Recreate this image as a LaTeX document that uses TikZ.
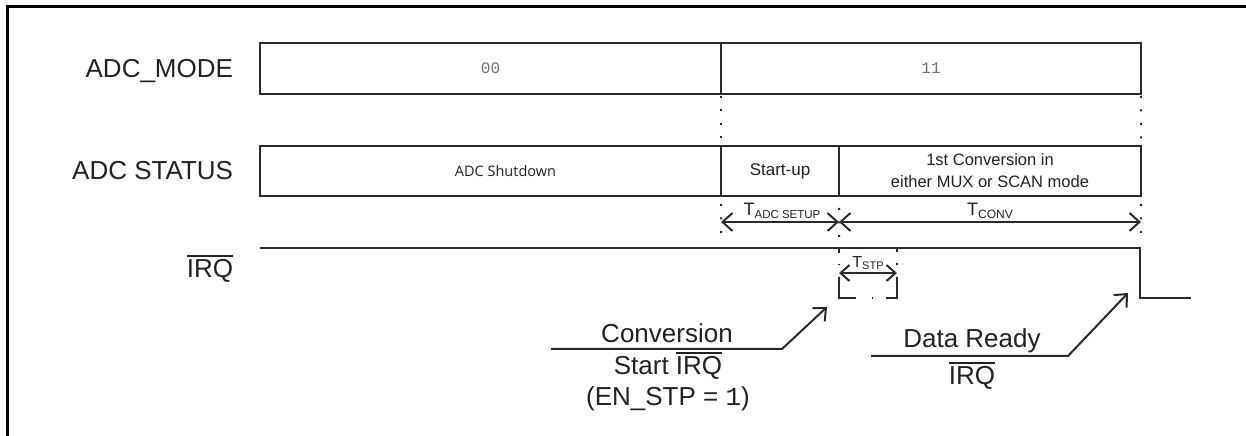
\documentclass[tikz,border=0pt]{standalone}
\usepackage{fontspec}
\setmainfont{Liberation Sans}
\newfontfamily\monofont{Liberation Mono}
\newfontfamily\humfont{Open Sans}
\usetikzlibrary{arrows.meta}
\definecolor{ink}{HTML}{222222}
\definecolor{boxc}{HTML}{2A2A2A}
\definecolor{grayt}{HTML}{707070}
\newcommand{\ovl}[1]{\leavevmode\vbox{\hrule height 1.8bp\kern 3.2bp\hbox{#1}}}
\begin{document}
\begin{tikzpicture}[x=1bp,y=-1bp,line width=2bp,
  seg/.style={draw=boxc,rectangle,inner sep=0pt,outer sep=0pt,anchor=north west,align=center,text=ink},
  lbl/.style={anchor=base east,inner sep=0pt,text=ink,font=\fontsize{26bp}{30bp}\selectfont},
  big/.style={anchor=base,inner sep=0pt,text=ink,font=\fontsize{26bp}{30bp}\selectfont},
  tlab/.style={anchor=base,inner sep=0pt,text=ink,font=\fontsize{18bp}{20bp}\selectfont},
  dotsy/.style={draw=boxc,line width=2bp,dash pattern=on 2bp off 11.5bp},
  dim/.style={draw=boxc,line width=2bp,{Straight Barb[length=10bp,width=18bp]}-{Straight Barb[length=10bp,width=18bp]}},
  dimsmall/.style={draw=boxc,line width=2bp,{Straight Barb[length=9bp,width=16bp]}-{Straight Barb[length=9bp,width=16bp]}},
  callout/.style={draw=boxc,line width=2bp,-{Straight Barb[length=10bp,width=18bp]}},
  sig/.style={draw=boxc,line width=2bp}
]
\useasboundingbox (0,0) rectangle (1246,436);
% frame
\draw[line width=3bp,black] (7,436) -- (7,7) -- (1246,7);

% row labels
\node[lbl] (lmode) at (234,78) {ADC\_MODE};
\node[lbl] (lstat) at (234,180) {ADC STATUS};
\node[lbl] (lirq) at (234,278) {\ovl{IRQ}};

% ADC_MODE row
\node[seg,minimum width=461bp,minimum height=51bp,font=\monofont\fontsize{16bp}{18bp}\selectfont,text=grayt] (m0) at (260,43) {00};
\node[seg,minimum width=420bp,minimum height=51bp,font=\monofont\fontsize{16bp}{18bp}\selectfont,text=grayt] (m1) at (721,43) {11};

% ADC STATUS row
\node[seg,minimum width=461bp,minimum height=50bp,font=\humfont\fontsize{14.5bp}{17bp}\selectfont] (s0) at (260,146) {\hspace*{30bp}ADC Shutdown};
\node[seg,minimum width=118bp,minimum height=50bp,font=\fontsize{17bp}{20bp}\selectfont] (s1) at (721,146) {Start-up};
\node[seg,minimum width=302bp,minimum height=50bp,font=\fontsize{16.5bp}{22bp}\selectfont] (s2) at (839,146) {1st Conversion in\\either MUX or SCAN mode};

% dotted guides between rows
\draw[dotsy,shorten <=2bp] (m0.south east) -- (s0.north east);
\draw[dotsy,shorten <=2bp] (m1.south east) -- (s2.north east);

% time points
\coordinate (tA) at (721,222);
\coordinate (tB) at (839,222);
\coordinate (tC) at (1141,222);
\coordinate (dA) at (721,240);
\coordinate (dB) at (839,244);
\coordinate (dC) at (1141,240);
\draw[dotsy,shorten <=8bp] (s0.south east) -- (dA);
\draw[dotsy,shorten <=12bp] (s1.south east) -- (dB);
\draw[dotsy,shorten <=8bp] (s2.south east) -- (dC);

% duration arrows
\draw[dim] (tA) -- (tB);
\draw[dim] (tB) -- (tC);
\node[tlab] (lsetup) at (782,216) {T\raisebox{-2.5bp}{\fontsize{11.5bp}{12bp}\selectfont ADC SETUP}};
\node[tlab] (lconv) at (990,216) {T\raisebox{-2.5bp}{\fontsize{12bp}{12bp}\selectfont CONV}};

% IRQ signal
\coordinate (q0) at (260,248);
\coordinate (q1) at (1140,248);
\coordinate (q2) at (1140,298);
\coordinate (q3) at (1191,298);
\draw[sig] (q0) -- (q1) -- (q2) -- (q3);

% dashed STP pulse
\coordinate (p1) at (839,248);
\coordinate (p2) at (839,298);
\coordinate (p3) at (897,298);
\coordinate (p4) at (897,248);
\draw[sig,dash pattern=on 5bp off 11bp on 1.5bp off 12bp on 37bp off 16bp on 1.5bp off 13bp on 32bp off 12bp on 1.5bp off 11bp on 5bp off 100bp] (p1) -- (p2) -- (p3) -- (p4);

% T_STP
\coordinate (sA) at (839,273);
\coordinate (sB) at (897,273);
\draw[dimsmall] (sA) -- (sB);
\node[anchor=base,inner sep=0pt,text=ink,font=\fontsize{16bp}{18bp}\selectfont] (lstp) at (868,268) {T\raisebox{-2bp}{\fontsize{11bp}{11bp}\selectfont STP}};

% callout: conversion start
\coordinate (c1a) at (551,349);
\coordinate (c1b) at (782,349);
\coordinate (c1c) at (827,307);
\draw[callout] (c1a) -- (c1b) -- (c1c);
\node[big] (conv1) at (667,343) {Conversion};
\node[big] (conv2) at (668,375) {Start \ovl{IRQ}};
\node[big] (conv3) at (668,406) {(EN\_STP = {\monofont 1})};

% callout: data ready
\coordinate (c2a) at (871,356);
\coordinate (c2b) at (1068,356);
\coordinate (c2c) at (1128,293);
\draw[callout] (c2a) -- (c2b) -- (c2c);
\node[big] (dr1) at (972,348) {Data Ready};
\node[big] (dr2) at (972,385) {\ovl{IRQ}};
\end{tikzpicture}
\end{document}
